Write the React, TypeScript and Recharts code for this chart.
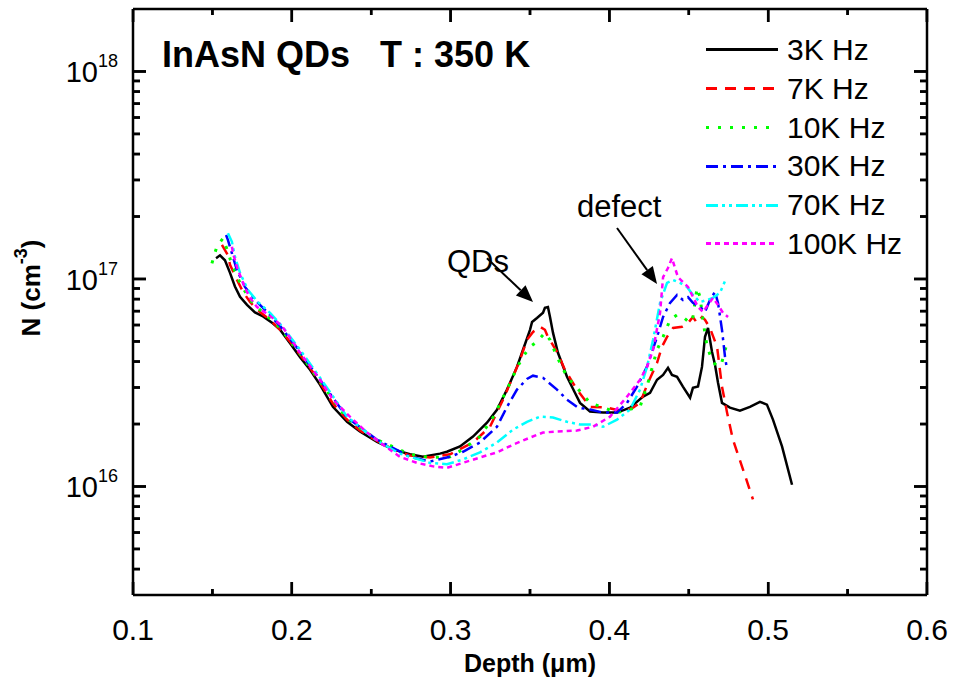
import React from 'react';
import { LineChart, Line, XAxis, YAxis, Legend, ReferenceLine, ReferenceDot, Label } from 'recharts';

const FONT = '"Liberation Sans", Arial, Helvetica, sans-serif';

// [depth (um), N (cm^-3)]
const s3k: [number, number][] = [
  [0.1523, 1.26e17], [0.1548, 1.30e17], [0.1579, 1.23e17], [0.1611, 1.07e17], [0.1642, 9.2e16], [0.1674, 8.2e16],
  [0.1718, 7.5e16], [0.1768, 6.9e16], [0.1819, 6.6e16], [0.1882, 6.1e16], [0.1926, 5.7e16], [0.1989, 4.9e16],
  [0.2052, 4.2e16], [0.2115, 3.65e16], [0.2178, 3.09e16], [0.2259, 2.42e16], [0.2348, 2.05e16], [0.2429, 1.84e16],
  [0.2537, 1.64e16], [0.2637, 1.51e16], [0.2744, 1.43e16], [0.2826, 1.39e16], [0.2933, 1.44e16], [0.2977, 1.47e16],
  [0.3059, 1.56e16], [0.3141, 1.74e16], [0.3229, 2.03e16], [0.3292, 2.34e16], [0.3355, 2.93e16], [0.3418, 3.77e16],
  [0.3456, 4.56e16], [0.35, 5.69e16], [0.3513, 6.21e16], [0.3544, 6.49e16], [0.3582, 6.87e16], [0.3594, 7.26e16],
  [0.3613, 7.33e16], [0.3626, 6.56e16], [0.3645, 5.5e16], [0.3676, 4.41e16], [0.3733, 3.38e16], [0.3783, 2.83e16],
  [0.3815, 2.53e16], [0.3878, 2.3e16], [0.396, 2.27e16], [0.4048, 2.27e16], [0.413, 2.4e16], [0.4212, 2.71e16],
  [0.4256, 2.83e16], [0.43, 3.27e16], [0.4338, 3.45e16], [0.4369, 3.73e16], [0.4394, 3.45e16], [0.4426, 3.38e16],
  [0.4463, 3.03e16], [0.4508, 2.68e16], [0.4526, 2.99e16], [0.4558, 3.03e16], [0.4583, 3.77e16], [0.4602, 5.26e16],
  [0.4621, 5.81e16], [0.4646, 4.46e16], [0.4665, 3.86e16], [0.4684, 3.16e16], [0.4709, 2.53e16], [0.4759, 2.4e16],
  [0.4822, 2.32e16], [0.4885, 2.42e16], [0.4948, 2.56e16], [0.4992, 2.48e16], [0.503, 2.1e16], [0.5087, 1.56e16],
  [0.515, 1.02e16],
];

const s7k: [number, number][] = [
  [0.156, 1.46e17], [0.1598, 1.3e17], [0.1611, 1.17e17], [0.1655, 9.9e16], [0.1693, 8.66e16], [0.1737, 7.74e16],
  [0.18, 6.93e16], [0.1863, 6.35e16], [0.1926, 5.69e16], [0.1989, 4.98e16], [0.2052, 4.31e16], [0.2115, 3.73e16],
  [0.2178, 3.16e16], [0.2259, 2.51e16], [0.2348, 2.1e16], [0.2429, 1.86e16], [0.2537, 1.66e16], [0.2637, 1.51e16],
  [0.2744, 1.41e16], [0.287, 1.38e16], [0.2996, 1.43e16], [0.3141, 1.63e16], [0.3248, 1.94e16], [0.333, 2.62e16],
  [0.3393, 3.38e16], [0.3437, 4.08e16], [0.3481, 5.09e16], [0.3519, 5.56e16], [0.3563, 5.88e16], [0.3594, 5.69e16],
  [0.3613, 5.26e16], [0.367, 4.46e16], [0.372, 3.65e16], [0.3796, 2.93e16], [0.3878, 2.42e16], [0.3985, 2.4e16],
  [0.4086, 2.3e16], [0.4149, 2.4e16], [0.4193, 2.53e16], [0.4243, 3.16e16], [0.43, 3.94e16], [0.4331, 4.71e16],
  [0.4363, 5.26e16], [0.4401, 5.81e16], [0.4457, 5.88e16], [0.4495, 6.14e16], [0.4526, 6.56e16], [0.4552, 6.14e16],
  [0.4583, 6.56e16], [0.4602, 6.35e16], [0.4633, 5.81e16], [0.4678, 4.71e16], [0.4709, 3.03e16], [0.4741, 2.27e16],
  [0.4778, 1.68e16], [0.4841, 1.21e16], [0.4904, 8.66e15],
];

const s10k: [number, number][] = [
  [0.1497, 1.19e17], [0.1529, 1.44e17], [0.1567, 1.57e17], [0.1598, 1.35e17], [0.1623, 1.17e17], [0.1674, 9.57e16],
  [0.1737, 7.92e16], [0.18, 7.1e16], [0.1926, 5.81e16], [0.2052, 4.36e16], [0.2178, 3.2e16], [0.2348, 2.12e16],
  [0.2537, 1.68e16], [0.2744, 1.43e16], [0.287, 1.38e16], [0.2996, 1.39e16], [0.3078, 1.51e16], [0.3185, 1.74e16],
  [0.3267, 2.15e16], [0.3355, 2.93e16], [0.3418, 3.73e16], [0.3456, 4.22e16], [0.35, 4.71e16], [0.3544, 4.98e16],
  [0.3594, 5.5e16], [0.3626, 5.09e16], [0.367, 4.22e16], [0.3733, 3.38e16], [0.3796, 2.99e16], [0.3878, 2.53e16],
  [0.4048, 2.27e16], [0.4193, 2.42e16], [0.4243, 3.16e16], [0.43, 4.56e16], [0.4338, 5.26e16], [0.4382, 6.35e16],
  [0.4426, 6.71e16], [0.4463, 6.56e16], [0.4508, 6.14e16], [0.4526, 6.56e16], [0.4552, 9.06e16], [0.4571, 8.18e16],
  [0.4589, 6.35e16], [0.4615, 4.71e16], [0.4646, 4.08e16], [0.4678, 3.78e16], [0.4709, 3.99e16], [0.4741, 4.92e16],
];

const s30k: [number, number][] = [
  [0.1586, 1.63e17], [0.1598, 1.54e17], [0.1623, 1.33e17], [0.1655, 1.1e17], [0.1705, 9.16e16], [0.1768, 7.92e16],
  [0.1831, 7.1e16], [0.1926, 5.94e16], [0.2052, 4.46e16], [0.2178, 3.27e16], [0.2348, 2.15e16], [0.2537, 1.68e16],
  [0.2744, 1.39e16], [0.287, 1.32e16], [0.2996, 1.39e16], [0.3078, 1.47e16], [0.3185, 1.63e16], [0.3292, 1.94e16],
  [0.3355, 2.42e16], [0.3418, 2.93e16], [0.3481, 3.3e16], [0.3519, 3.42e16], [0.3582, 3.34e16], [0.367, 2.93e16],
  [0.3733, 2.62e16], [0.3802, 2.4e16], [0.3878, 2.35e16], [0.396, 2.27e16], [0.4048, 2.27e16], [0.4111, 2.53e16],
  [0.4174, 3.03e16], [0.4237, 3.78e16], [0.43, 5.26e16], [0.4338, 6.56e16], [0.4382, 7.67e16], [0.4426, 8.38e16],
  [0.4463, 7.92e16], [0.4495, 8.18e16], [0.4526, 7.67e16], [0.4571, 7.33e16], [0.4602, 6.93e16], [0.4633, 7.92e16],
  [0.4665, 8.66e16], [0.4684, 7.67e16], [0.4709, 5.69e16], [0.4728, 4.22e16], [0.4741, 3.65e16],
];

const s70k: [number, number][] = [
  [0.1598, 1.66e17], [0.1623, 1.51e17], [0.1642, 1.28e17], [0.1674, 1.07e17], [0.1724, 8.85e16], [0.1787, 7.74e16],
  [0.1863, 6.87e16], [0.1938, 5.94e16], [0.2052, 4.56e16], [0.2178, 3.34e16], [0.2348, 2.17e16], [0.2537, 1.66e16],
  [0.2681, 1.44e16], [0.287, 1.3e16], [0.2977, 1.28e16], [0.3078, 1.35e16], [0.3185, 1.46e16], [0.3292, 1.63e16],
  [0.3393, 1.88e16], [0.3481, 2.05e16], [0.3563, 2.17e16], [0.3645, 2.15e16], [0.3733, 2.05e16], [0.3815, 1.99e16],
  [0.3897, 1.99e16], [0.396, 1.94e16], [0.4048, 2.1e16], [0.413, 2.35e16], [0.4193, 2.93e16], [0.4237, 3.78e16],
  [0.4275, 5.09e16], [0.4319, 7.67e16], [0.4363, 9.57e16], [0.4401, 9.89e16], [0.4445, 9.57e16], [0.4489, 9.16e16],
  [0.4526, 8.38e16], [0.4571, 7.74e16], [0.4615, 7.92e16], [0.4652, 8.11e16], [0.4696, 8.57e16], [0.4734, 1.0e17],
];

const s100k: [number, number][] = [
  [0.1623, 1.43e17], [0.163, 1.33e17], [0.1655, 1.14e17], [0.1705, 9.06e16], [0.1737, 8.11e16], [0.1781, 7.33e16],
  [0.1863, 6.64e16], [0.1938, 5.94e16], [0.2052, 4.41e16], [0.2178, 3.27e16], [0.2259, 2.62e16], [0.2366, 2.17e16],
  [0.2474, 1.82e16], [0.2574, 1.59e16], [0.2681, 1.39e16], [0.2788, 1.3e16], [0.2889, 1.25e16], [0.2977, 1.23e16],
  [0.3078, 1.3e16], [0.3185, 1.38e16], [0.3292, 1.46e16], [0.3393, 1.59e16], [0.35, 1.72e16], [0.3582, 1.82e16],
  [0.367, 1.84e16], [0.3796, 1.86e16], [0.3897, 1.94e16], [0.4004, 2.17e16], [0.4111, 2.71e16], [0.4193, 3.27e16],
  [0.4237, 3.78e16], [0.4275, 4.56e16], [0.4319, 6.87e16], [0.4338, 1.02e17], [0.4369, 1.13e17], [0.4394, 1.26e17],
  [0.4413, 1.13e17], [0.4432, 1.02e17], [0.4463, 9.68e16], [0.4495, 9.16e16], [0.452, 8.38e16], [0.4558, 7.33e16],
  [0.4589, 6.93e16], [0.4621, 7.5e16], [0.4652, 8.11e16], [0.4684, 7.5e16], [0.4715, 6.87e16], [0.4747, 6.56e16],
];

const seriesData = [s3k, s7k, s10k, s30k, s70k, s100k];
const seriesNames = ['3K Hz', '7K Hz', '10K Hz', '30K Hz', '70K Hz', '100K Hz'];
const seriesColors = ['#000000', '#ff0000', '#00ff00', '#0000ff', '#00ffff', '#ff00ff'];
const seriesDashes = ['', '11 8', '3 9', '12 5 3 5', '12 4 3 4 3 4', '5 4'];
const seriesWidths = [2.5, 2.5, 3, 2.5, 2.5, 2.5];

const X_MIN = 0.1;
const X_MAX = 0.6;
const Y_MIN = 3e15;
const Y_MAX = 2e18;
const xMajorTicks = [0.1, 0.2, 0.3, 0.4, 0.5, 0.6];
const xMinorTicks = [0.15, 0.25, 0.35, 0.45, 0.55];
const yMajorTicks = [1e16, 1e17, 1e18];
const yMinorTicks = [
  4e15, 5e15, 6e15, 7e15, 8e15, 9e15,
  2e16, 3e16, 4e16, 5e16, 6e16, 7e16, 8e16, 9e16,
  2e17, 3e17, 4e17, 5e17, 6e17, 7e17, 8e17, 9e17,
];

// chart geometry (pixels)
const CHART_W = 956;
const CHART_H = 689;
const MARGIN = { top: 9, right: 29, bottom: 0, left: 0 };
const Y_AXIS_W = 133;
const X_AXIS_H = 94;
const PLOT_W = CHART_W - MARGIN.left - MARGIN.right - Y_AXIS_W;
const PLOT_H = CHART_H - MARGIN.top - MARGIN.bottom - X_AXIS_H;
const PX_PER_X = PLOT_W / (X_MAX - X_MIN);
const PX_PER_DECADE = PLOT_H / Math.log10(Y_MAX / Y_MIN);

const titleText = 'InAsN QDs   T : 350 K';
const titlePos = { x: 0.1183, y: 1.046e18 };
const xTitle = 'Depth (\u03bcm)';
const qdsText = 'QDs';
const qdsPos = { x: 0.2977, y: 1.08e17 };
const defectText = 'defect';
const defectPos = { x: 0.3796, y: 1.99e17 };
const qdsArrow = [{ x: 0.3229, y: 1.26e17 }, { x: 0.3519, y: 7.74e16 }];
const defectArrow = [{ x: 0.4048, y: 1.76e17 }, { x: 0.43, y: 9.46e16 }];

// tick marks expressed as tiny two-point series (inward, on all four sides)
const xTickSeries = (v: number, lenPx: number) => {
  const f = Math.pow(10, lenPx / PX_PER_DECADE);
  return [
    [{ x: v, n: Y_MIN }, { x: v, n: Y_MIN * f }],
    [{ x: v, n: Y_MAX / f }, { x: v, n: Y_MAX }],
  ];
};
const yTickSeries = (v: number, lenPx: number) => {
  const d = lenPx / PX_PER_X;
  return [
    [{ x: X_MIN, n: v }, { x: X_MIN + d, n: v }],
    [{ x: X_MAX - d, n: v }, { x: X_MAX, n: v }],
  ];
};
const tickSeries = [
  ...xMajorTicks.flatMap((v) => xTickSeries(v, 13)),
  ...xMinorTicks.flatMap((v) => xTickSeries(v, 6)),
  ...yMajorTicks.flatMap((v) => yTickSeries(v, 13)),
  ...yMinorTicks.flatMap((v) => yTickSeries(v, 7)),
];

const BottomTickLabel = (props: any) => {
  const { x, y, payload } = props;
  return (
    <text x={x} y={Number(y) + 45} textAnchor="middle" fontSize={30} fontFamily={FONT} fill="#000">
      {Number(payload.value).toFixed(1)}
    </text>
  );
};

const LeftTickLabel = (props: any) => {
  const { x, y, payload } = props;
  return (
    <text x={Number(x) - 15} y={Number(y) + 11} textAnchor="end" fontSize={29} fontFamily={FONT} fill="#000">
      10
      <tspan dy={-15} fontSize={18}>{Math.round(Math.log10(payload.value))}</tspan>
    </text>
  );
};

const TickX = (props: any) => {
  const len = Number(props.len);
  const x = Number(props.x1);
  const top = Math.min(Number(props.y1), Number(props.y2));
  const bot = Math.max(Number(props.y1), Number(props.y2));
  return (
    <g>
      <line x1={x} y1={bot} x2={x} y2={bot - len} stroke="#000" strokeWidth={2.5} />
      <line x1={x} y1={top} x2={x} y2={top + len} stroke="#000" strokeWidth={2.5} />
    </g>
  );
};

const TickY = (props: any) => {
  const len = Number(props.len);
  const y = Number(props.y1);
  const l = Math.min(Number(props.x1), Number(props.x2));
  const r = Math.max(Number(props.x1), Number(props.x2));
  return (
    <g>
      <line x1={l} y1={y} x2={l + len} y2={y} stroke="#000" strokeWidth={2.5} />
      <line x1={r} y1={y} x2={r - len} y2={y} stroke="#000" strokeWidth={2.5} />
    </g>
  );
};

const Arrow = (props: any) => {
  const x1 = Number(props.x1);
  const y1 = Number(props.y1);
  const x2 = Number(props.x2);
  const y2 = Number(props.y2);
  const ang = Math.atan2(y2 - y1, x2 - x1);
  const L = 17;
  const W = 7;
  const bx = x2 - L * Math.cos(ang);
  const by = y2 - L * Math.sin(ang);
  const px = -Math.sin(ang) * W;
  const py = Math.cos(ang) * W;
  return (
    <g>
      <line x1={x1} y1={y1} x2={bx} y2={by} stroke="#000" strokeWidth={2} />
      <polygon points={`${x2},${y2} ${bx + px},${by + py} ${bx - px},${by - py}`} fill="#000" />
    </g>
  );
};

const XTitleLabel = (props: any) => {
  const vb = props.viewBox || { x: 0, y: 0, width: 0 };
  return (
    <text x={vb.x + vb.width / 2} y={vb.y + 77} textAnchor="middle" fontSize={25} fontWeight="bold" fontFamily={FONT} fill="#000">
      {xTitle}
    </text>
  );
};

const YTitleLabel = () => {
  const cx = 33;
  const cy = 288;
  return (
    <text x={cx} y={cy} transform={`rotate(-90, ${cx}, ${cy})`} textAnchor="middle" fontSize={26} fontWeight="bold" fontFamily={FONT} fill="#000" dominantBaseline="middle">
      N (cm
      <tspan dy={-11} fontSize={18}>-3</tspan>
      <tspan dy={11}>)</tspan>
    </text>
  );
};

const makeTextLabel = (txt: string, size: number, bold: boolean) => (props: any) => {
  const vb = props.viewBox || { x: 0, y: 0 };
  return (
    <text x={vb.x} y={vb.y} fontSize={size} fontWeight={bold ? 'bold' : 'normal'} fontFamily={FONT} fill="#000" style={{ whiteSpace: 'pre' }}>
      {txt}
    </text>
  );
};

const dashBackground = (color: string, dash: string) => {
  if (!dash) return color;
  const parts = dash.split(' ').map(Number);
  let pos = 0;
  const stops: string[] = [];
  parts.forEach((len, i) => {
    const c = i % 2 === 0 ? color : 'transparent';
    stops.push(`${c} ${pos}px ${pos + len}px`);
    pos += len;
  });
  return `repeating-linear-gradient(90deg, ${stops.join(', ')})`;
};

const renderLegend = () => (
  <div style={{ position: 'relative', width: 240, height: 240 }}>
    {seriesNames.map((name, i) => (
      <div
        key={name}
        style={{ position: 'absolute', left: 0, top: i * 38.8, height: 38.8, display: 'flex', alignItems: 'center', whiteSpace: 'nowrap' }}
      >
        <div style={{ width: 72, height: 3, background: dashBackground(seriesColors[i], seriesDashes[i]) }} />
        <span style={{ marginLeft: 9, fontSize: 30, fontFamily: FONT, lineHeight: 1, color: '#000' }}>{name}</span>
      </div>
    ))}
  </div>
);

export default function App() {
  return (
    <div style={{ position: 'absolute', left: 0, top: 0, width: CHART_W, height: CHART_H }}>
      <LineChart width={CHART_W} height={CHART_H} margin={MARGIN}>
        <XAxis
          dataKey="x"
          type="number"
          domain={[X_MIN, X_MAX]}
          ticks={xMajorTicks}
          allowDataOverflow
          height={X_AXIS_H}
          tickSize={0}
          tickMargin={0}
          tickLine={false}
          axisLine={{ stroke: '#000', strokeWidth: 2.5 }}
          tick={<BottomTickLabel />}
          interval={0}
        >
          <Label content={<XTitleLabel />} />
        </XAxis>
        <YAxis
          type="number"
          scale="log"
          domain={[Y_MIN, Y_MAX]}
          ticks={yMajorTicks}
          allowDataOverflow
          width={Y_AXIS_W}
          tickSize={0}
          tickMargin={0}
          tickLine={false}
          axisLine={{ stroke: '#000', strokeWidth: 2.5 }}
          tick={<LeftTickLabel />}
          interval={0}
        >
          <Label content={<YTitleLabel />} />
        </YAxis>
        <Legend
          layout="horizontal"
          verticalAlign="middle"
          align="center"
          content={renderLegend}
          wrapperStyle={{ position: 'absolute', left: 706, top: 30.6, width: 240, height: 240 }}
        />
        {seriesData.map((s, i) => (
          <Line
            key={seriesNames[i]}
            data={s.map(([x, n]) => ({ x, n }))}
            dataKey="n"
            type="linear"
            stroke={seriesColors[i]}
            strokeWidth={seriesWidths[i]}
            strokeDasharray={seriesDashes[i] || undefined}
            dot={false}
            activeDot={false}
            isAnimationActive={false}
          />
        ))}
        {tickSeries.map((d, i) => (
          <Line
            key={`tick${i}`}
            data={d}
            dataKey="n"
            type="linear"
            stroke="#000"
            strokeWidth={2.5}
            dot={false}
            activeDot={false}
            legendType="none"
            isAnimationActive={false}
          />
        ))}
        <ReferenceLine segment={qdsArrow} shape={<Arrow />} ifOverflow="visible" />
        <ReferenceLine segment={defectArrow} shape={<Arrow />} ifOverflow="visible" />
        <ReferenceDot x={titlePos.x} y={titlePos.y} r={0} fill="none" stroke="none" ifOverflow="visible">
          <Label content={makeTextLabel(titleText, 36, true)} />
        </ReferenceDot>
        <ReferenceDot x={qdsPos.x} y={qdsPos.y} r={0} fill="none" stroke="none" ifOverflow="visible">
          <Label content={makeTextLabel(qdsText, 31, false)} />
        </ReferenceDot>
        <ReferenceDot x={defectPos.x} y={defectPos.y} r={0} fill="none" stroke="none" ifOverflow="visible">
          <Label content={makeTextLabel(defectText, 31, false)} />
        </ReferenceDot>
        <ReferenceLine segment={[{ x: X_MIN, y: Y_MAX }, { x: X_MAX, y: Y_MAX }]} stroke="#000" strokeWidth={2.5} ifOverflow="visible" />
        <ReferenceLine segment={[{ x: X_MAX, y: Y_MIN }, { x: X_MAX, y: Y_MAX }]} stroke="#000" strokeWidth={2.5} ifOverflow="visible" />
        {xMajorTicks.map((v) => (
          <ReferenceLine key={`xM${v}`} segment={[{ x: v, y: Y_MIN }, { x: v, y: Y_MAX }]} ifOverflow="visible" shape={<TickX len={13} />} />
        ))}
        {xMinorTicks.map((v) => (
          <ReferenceLine key={`xm${v}`} segment={[{ x: v, y: Y_MIN }, { x: v, y: Y_MAX }]} ifOverflow="visible" shape={<TickX len={6} />} />
        ))}
        {yMajorTicks.map((v) => (
          <ReferenceLine key={`yM${v}`} segment={[{ x: X_MIN, y: v }, { x: X_MAX, y: v }]} ifOverflow="visible" shape={<TickY len={13} />} />
        ))}
        {yMinorTicks.map((v) => (
          <ReferenceLine key={`ym${v}`} segment={[{ x: X_MIN, y: v }, { x: X_MAX, y: v }]} ifOverflow="visible" shape={<TickY len={7} />} />
        ))}
      </LineChart>
    </div>
  );
}
